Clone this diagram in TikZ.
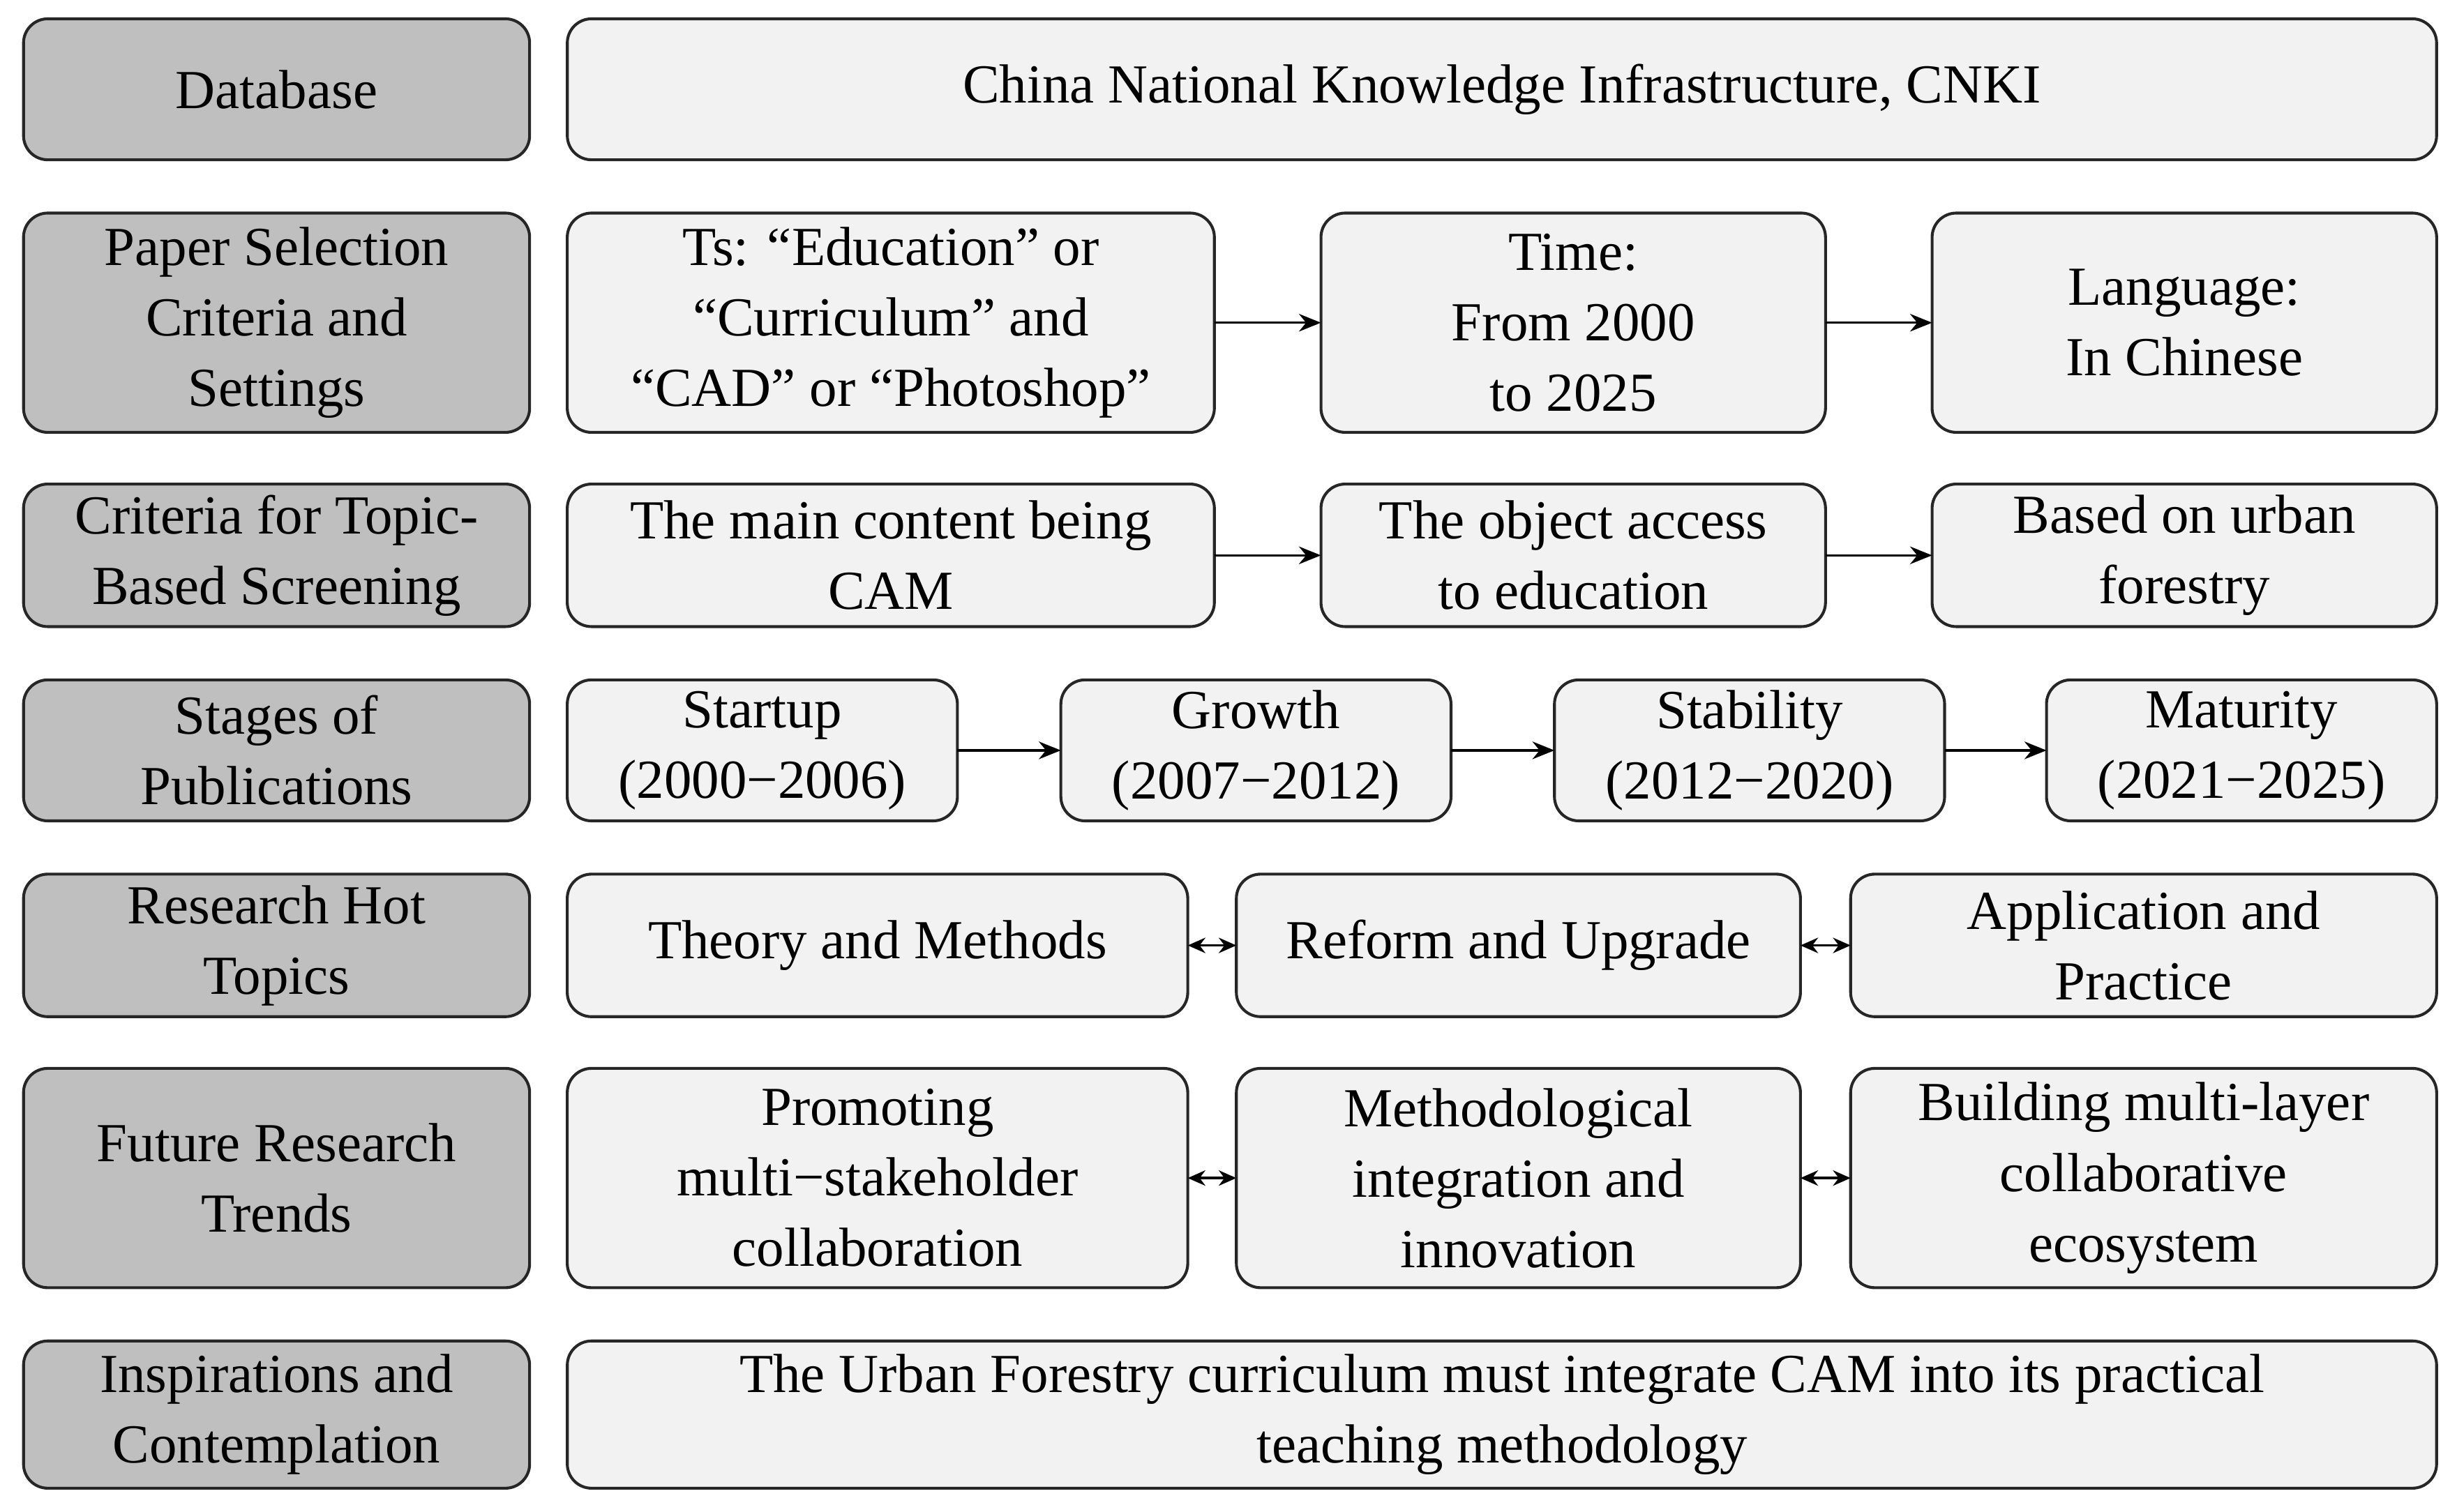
\documentclass[tikz,border=0pt]{standalone}
\usepackage{fontspec}
\setmainfont{Liberation Serif}
\usetikzlibrary{arrows.meta}
\begin{document}
\begin{tikzpicture}[x=0.05cm,y=-0.05cm,
 base/.style={draw=black!85,line width=2.6pt,rounded corners=22pt,inner sep=0pt,outer sep=0pt,align=center,font=\fontsize{50}{64}\selectfont},
 lbox/.style={base,fill=black!25,minimum width=16.15cm},
 rbox/.style={base,fill=black!5},
 arr/.style={line width=2.2pt,-{Stealth[length=20pt,width=16pt]}},
 darr/.style={line width=2.2pt,{Stealth[length=16pt,width=14pt]}-{Stealth[length=16pt,width=14pt]}}]
\useasboundingbox[fill=white] (0,0) rectangle (1568,965);
% left column
\node[lbox,minimum height=4.5cm] (l1) at (176.5,57) {Database};
\node[lbox,minimum height=7cm] (l2) at (176.5,206) {Paper Selection\\Criteria and\\Settings};
\node[lbox,minimum height=4.55cm] (l3) at (176.5,354.5) {Criteria for Topic-\\Based Screening};
\node[lbox,minimum height=4.5cm] (l4) at (176.5,479) {Stages of\\Publications};
\node[lbox,minimum height=4.55cm] (l5) at (176.5,603.5) {Research Hot\\Topics};
\node[lbox,minimum height=7cm] (l6) at (176.5,752) {Future Research\\Trends};
\node[lbox,minimum height=4.7cm] (l7) at (176.5,903) {Inspirations and\\Contemplation};
% row 1
\node[rbox,minimum width=59.65cm,minimum height=4.5cm] (r1) at (958.5,57) {China National Knowledge Infrastructure, CNKI};
% row 2
\node[rbox,minimum width=20.65cm,minimum height=7cm] (a2) at (568.5,206) {Ts: “Education” or\\“Curriculum” and\\“CAD” or “Photoshop”};
\node[rbox,minimum width=16.1cm,minimum height=7cm] (b2) at (1004,206) {Time:\\From 2000\\to 2025};
\node[rbox,minimum width=16.1cm,minimum height=7cm] (c2) at (1394,206) {Language:\\In Chinese};
\draw[arr] (a2) -- (b2); \draw[arr] (b2) -- (c2);
% row 3
\node[rbox,minimum width=20.65cm,minimum height=4.55cm] (a3) at (568.5,354.5) {The main content being\\CAM};
\node[rbox,minimum width=16.1cm,minimum height=4.55cm] (b3) at (1004,354.5) {The object access\\to education};
\node[rbox,minimum width=16.1cm,minimum height=4.55cm] (c3) at (1394,354.5) {Based on urban\\forestry};
\draw[arr] (a3) -- (b3); \draw[arr] (b3) -- (c3);
% row 4
\node[rbox,minimum width=12.45cm,minimum height=4.5cm] (a4) at (486.5,479) {Startup\\(2000−2006)};
\node[rbox,minimum width=12.45cm,minimum height=4.5cm] (b4) at (801.5,479) {Growth\\(2007−2012)};
\node[rbox,minimum width=12.45cm,minimum height=4.5cm] (c4) at (1116.5,479) {Stability\\(2012−2020)};
\node[rbox,minimum width=12.45cm,minimum height=4.5cm] (d4) at (1430.5,479) {Maturity\\(2021−2025)};
\draw[arr] (a4) -- (b4); \draw[arr] (b4) -- (c4); \draw[arr] (c4) -- (d4);
% row 5
\node[rbox,minimum width=19.8cm,minimum height=4.55cm] (a5) at (560,603.5) {Theory and Methods};
\node[rbox,minimum width=18cm,minimum height=4.55cm] (b5) at (969,603.5) {Reform and Upgrade};
\node[rbox,minimum width=18.7cm,minimum height=4.55cm] (c5) at (1368,603.5) {Application and\\Practice};
\draw[darr] (a5) -- (b5); \draw[darr] (b5) -- (c5);
% row 6
\node[rbox,minimum width=19.8cm,minimum height=7cm] (a6) at (560,752) {Promoting\\multi−stakeholder\\collaboration};
\node[rbox,minimum width=18cm,minimum height=7cm] (b6) at (969,752) {Methodological\\integration and\\innovation};
\node[rbox,minimum width=18.7cm,minimum height=7cm] (c6) at (1368,752) {Building multi-layer\\collaborative\\ecosystem};
\draw[darr] (a6) -- (b6); \draw[darr] (b6) -- (c6);
% row 7
\node[rbox,minimum width=59.65cm,minimum height=4.7cm] (r7) at (958.5,903) {The Urban Forestry curriculum must integrate CAM into its practical\\teaching methodology};
\end{tikzpicture}
\end{document}
